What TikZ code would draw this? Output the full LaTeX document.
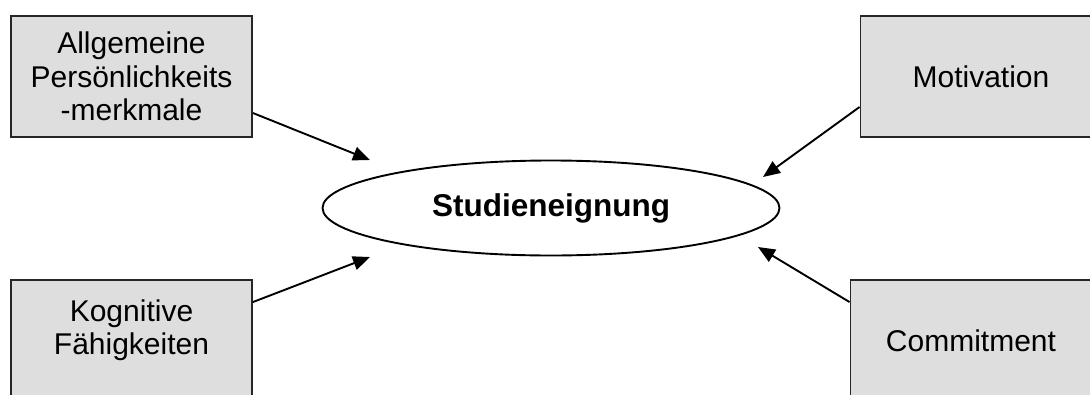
\documentclass[tikz,border=0pt]{standalone}
\usepackage{fontspec}
\setmainfont{Liberation Sans}
\usetikzlibrary{shapes.geometric,arrows.meta,calc}
\begin{document}
\begin{tikzpicture}[x=1pt,y=-1pt,
  box/.style={draw=black!85,line width=1.9pt,fill=black!13,minimum width=241pt,minimum height=121pt,inner sep=0pt,align=center,font=\fontsize{30}{33.5}\selectfont},
  txt/.style={align=center,inner sep=0pt,font=\fontsize{30}{33.5}\selectfont},
  arr/.style={line width=1.9pt,-{Triangle[length=17pt,width=14pt]}}]
\clip (0,0) rectangle (1090,394);
\useasboundingbox (0,0) rectangle (1090,394);
\node[box] (tl) at (131.5,76.5) {Allgemeine\\Persönlichkeits\\-merkmale};
\node[box] (tr) at (981,76.5) {Motivation};
\node[box] (bl) at (131.5,340.5) {};
\node[txt] (bltext) at (131.5,330) {Kognitive\\Fähigkeiten};
\node[box] (br) at (971,340.5) {Commitment};
\node[draw,ellipse,line width=1.9pt,minimum width=457pt,minimum height=95pt,inner sep=0pt,font=\fontsize{31.5}{34}\selectfont\bfseries] (e) at (551,208) {Studieneignung};
\coordinate (t1) at ($(e.center)+(-181,-48)$);
\coordinate (t2) at ($(e.center)+(212,-31)$);
\coordinate (t3) at ($(e.center)+(-181,49)$);
\coordinate (t4) at ($(e.center)+(207,39)$);
\draw[arr] ($(tl.east)+(0,36.5)$) -- (t1);
\draw[arr] ($(tr.west)+(0,30.5)$) -- (t2);
\draw[arr] ($(bl.north east)+(0,23)$) -- (t3);
\draw[arr] ($(br.north west)+(0,23)$) -- (t4);
\end{tikzpicture}
\end{document}
